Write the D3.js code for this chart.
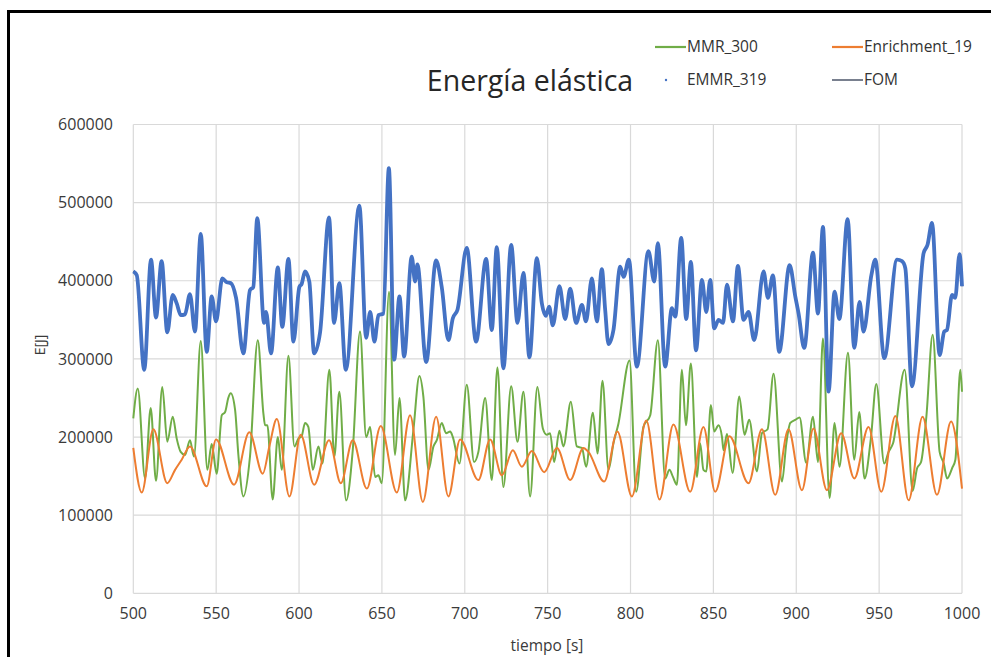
<!DOCTYPE html>
<html>
<head>
<meta charset="utf-8">
<script src="https://cdn.jsdelivr.net/npm/d3@7"></script>
<style>
  body { margin: 0; background: #fff; }
  text { font-family: "Open Sans", "Noto Sans", sans-serif; fill: #3a3a3a; }
</style>
</head>
<body>
<div id="chart"></div>
<script>
var W = 991, H = 657;
var margin = {left: 133.3, right: 29, top: 124.5, bottom: 63.7};

var title = "Energía elástica";
var xTicks = [500, 550, 600, 650, 700, 750, 800, 850, 900, 950, 1000];
var yTicks = [0, 100000, 200000, 300000, 400000, 500000, 600000];

// EMMR_319 (blue) - FOM follows the same path underneath
var emmrT = [500, 502.1, 506.6, 510.7, 513.7, 517.1, 520.5, 523.8, 526.2, 528.6, 531.2, 534.2, 537.2, 540.7, 544.3, 547.3, 549.9, 553.7, 556.4, 558.8, 562, 566.4, 570.4, 572.4, 574.8, 578.9, 580.1, 583.1, 587.2, 589.9, 593.6, 596.6, 600.2, 601.6, 603.6, 606.2, 609.1, 612.7, 618.1, 621.1, 624.3, 628.2, 636.4, 640.5, 642.9, 645.5, 647.9, 650.9, 654.2, 657.4, 660.6, 663.4, 668, 670, 671.4, 676.7, 682.7, 686.1, 690.1, 692.8, 695.6, 701.2, 706.8, 712.9, 716.3, 719.3, 723.3, 728, 731.8, 735.4, 739, 743.5, 746.5, 748.9, 750.9, 753.1, 757.1, 760.6, 763.6, 767.2, 770.7, 773.1, 776.7, 779.7, 782.7, 784.7, 786.7, 789.7, 793.8, 795.8, 799, 803.8, 810.8, 814.3, 816.5, 820.9, 825, 827, 830.6, 833.6, 836.4, 839.5, 843.1, 845.7, 848.1, 850.5, 853.1, 855.8, 858.2, 861.8, 864.8, 868.2, 871.2, 874.6, 880.3, 882.9, 885.9, 889.7, 896, 899.4, 901.4, 904.8, 910.1, 913.1, 916.1, 919.5, 923.1, 926, 931, 935, 938.2, 940.6, 945.3, 947.7, 953.1, 960.8, 963.8, 965.8, 969.8, 976.8, 979.2, 981.9, 986.5, 989.3, 990.9, 994, 995.9, 998.5, 1000];
var emmrV = [412, 407, 286, 427, 353, 425, 334, 382, 371, 356, 357, 383, 335, 460, 309, 380, 348, 403, 398, 397, 378, 307, 388, 392, 480, 346, 360, 307, 417, 341, 428, 322, 392, 396, 412, 399, 307, 334, 481, 346, 397, 286, 496, 327, 360, 322, 356, 358, 544, 299, 380, 303, 431, 399, 421, 296, 426, 392, 324, 352, 363, 442, 322, 428, 337, 443, 288, 446, 346, 410, 302, 429, 371, 355, 367, 343, 393, 351, 390, 346, 369, 348, 403, 348, 415, 363, 319, 337, 418, 405, 427, 290, 438, 399, 448, 290, 365, 354, 455, 351, 424, 311, 401, 360, 401, 339, 350, 346, 395, 348, 419, 350, 360, 324, 412, 378, 407, 309, 420, 380, 358, 314, 436, 358, 469, 258, 386, 351, 479, 314, 373, 335, 407, 427, 301, 427, 425, 416, 265, 435, 446, 474, 305, 335, 337, 382, 378, 434, 393];

// MMR_300 (green)
var mmrT = [500, 502.7, 507.1, 510.5, 513.7, 517.5, 520.5, 523.8, 526.2, 528.6, 531.2, 534.2, 536.6, 540.7, 544.7, 547.3, 550.3, 553.4, 555.4, 557.3, 558.8, 561.4, 563.4, 566.4, 570.4, 575.1, 578.5, 579.5, 580.9, 584.1, 587.2, 589.6, 593.6, 597.2, 599.6, 601.6, 603.6, 605.6, 608.3, 611.7, 614.1, 618.3, 621.3, 624.3, 628.4, 632.4, 636.8, 640.5, 642.9, 645.9, 647.9, 649.9, 654.3, 657.9, 660.6, 664, 669, 672.6, 675, 678.1, 681.1, 683.1, 686.1, 688.7, 691.2, 692.8, 696.8, 701.2, 705.6, 708.2, 712.3, 716.3, 719.7, 723.3, 728, 731.8, 735.4, 739.4, 743.8, 747.1, 749.5, 751.5, 753.9, 757.1, 759.5, 764, 767.6, 770.7, 773.2, 777.3, 780.1, 783.1, 786.7, 789.7, 792.7, 799.4, 803.4, 807.8, 811.9, 816.5, 820.9, 823.5, 825.6, 828, 831, 833.4, 836.4, 840.1, 842, 844, 845.7, 848.5, 850.5, 853.1, 855.2, 856.1, 858.2, 861.6, 865.6, 868.8, 871.6, 876.3, 879.3, 882.7, 886.3, 891.4, 894, 896.4, 899.4, 902, 906, 910.1, 913.1, 916.1, 920.1, 923.1, 926.1, 931.2, 935, 938, 941.2, 945.1, 948.3, 953.1, 955.7, 958.4, 965.4, 970.2, 972.9, 975.3, 978.5, 982.3, 986.5, 989, 991, 994, 996, 999, 1000];
var mmrV = [224, 262, 147, 237, 144, 264, 194, 226, 198, 181, 177, 196, 175, 323, 158, 191, 153, 228, 232, 250, 256, 235, 177, 124, 175, 324, 230, 215, 215, 120, 200, 158, 304, 188, 198, 201, 218, 213, 158, 188, 166, 286, 175, 258, 119, 183, 335, 200, 213, 149, 151, 141, 386, 177, 250, 119, 209, 278, 252, 158, 188, 196, 218, 205, 207, 200, 166, 267, 168, 181, 250, 145, 289, 136, 265, 194, 258, 124, 264, 211, 203, 205, 168, 208, 188, 245, 188, 186, 162, 231, 179, 272, 158, 192, 217, 298, 130, 213, 228, 324, 147, 158, 149, 139, 286, 215, 294, 149, 192, 158, 156, 241, 207, 215, 200, 183, 204, 154, 252, 203, 222, 156, 205, 210, 281, 143, 192, 218, 222, 225, 167, 226, 168, 326, 122, 218, 162, 308, 171, 232, 147, 200, 268, 166, 181, 192, 286, 131, 160, 168, 226, 331, 181, 166, 147, 160, 171, 286, 258];

// Enrichment_19 (orange)
var enrT = [500, 505.1, 512.1, 520.5, 525.2, 529.2, 534.2, 544.3, 549.9, 560.8, 570, 578.1, 582.1, 586.6, 594.2, 601, 609.1, 618.1, 625.2, 632.4, 640.9, 649.3, 659, 667, 674.7, 682.7, 690.1, 697.2, 708.2, 715.3, 722.4, 729, 734.4, 740.5, 747.9, 755.6, 763.6, 771.6, 774.6, 784.1, 792.1, 800.8, 809.5, 817.5, 825.9, 836, 844, 851.1, 859.7, 871.2, 879.3, 887.3, 895.3, 903.4, 910.4, 918.5, 927.1, 935, 943.6, 951.3, 959.8, 967.8, 976.2, 984.9, 993.4, 1000];
var enrV = [186, 129, 210, 141, 158, 171, 188, 137, 197, 139, 206, 153, 188, 223, 124, 203, 139, 196, 141, 196, 134, 214, 129, 228, 117, 226, 124, 197, 145, 197, 151, 183, 162, 182, 155, 186, 145, 186, 181, 143, 207, 124, 221, 120, 216, 130, 213, 130, 201, 141, 210, 126, 210, 132, 211, 132, 205, 147, 213, 130, 227, 119, 226, 126, 220, 134];

var svg = d3.select("#chart").append("svg")
    .attr("width", W)
    .attr("height", H);

svg.append("rect").attr("width", W).attr("height", H).attr("fill", "#fff");

var x = d3.scaleLinear()
    .domain([500, 1000])
    .range([margin.left, W - margin.right]);
var y = d3.scaleLinear()
    .domain([0, 600000])
    .range([H - margin.bottom, margin.top]);

// grid
svg.append("g")
    .selectAll("line.h")
    .data(yTicks)
    .join("line")
    .attr("x1", x(500)).attr("x2", x(1000))
    .attr("y1", d => y(d)).attr("y2", d => y(d))
    .attr("stroke", "#d9d9d9").attr("stroke-width", 1.2);
svg.append("g")
    .selectAll("line.v")
    .data(xTicks)
    .join("line")
    .attr("x1", d => x(d)).attr("x2", d => x(d))
    .attr("y1", y(0)).attr("y2", y(600000))
    .attr("stroke", "#d9d9d9").attr("stroke-width", 1.2);

// tick labels
svg.append("g")
    .selectAll("text")
    .data(yTicks)
    .join("text")
    .attr("x", 113)
    .attr("y", d => y(d))
    .attr("dy", "0.35em")
    .attr("text-anchor", "end")
    .attr("font-size", 16)
    .text(d => d);
svg.append("g")
    .selectAll("text")
    .data(xTicks)
    .join("text")
    .attr("x", d => x(d))
    .attr("y", 619)
    .attr("text-anchor", "middle")
    .attr("font-size", 16)
    .text(d => d);

// axis titles
svg.append("text")
    .attr("transform", "translate(45,345) rotate(-90)")
    .attr("text-anchor", "middle")
    .attr("font-size", 14)
    .text("E[J]");
svg.append("text")
    .attr("x", 547).attr("y", 651)
    .attr("text-anchor", "middle")
    .attr("font-size", 15.5)
    .text("tiempo [s]");

function series(ts, vs) {
    return ts.map((t, i) => [t, vs[i] * 1000]);
}
var line = d3.line()
    .x(d => x(d[0]))
    .y(d => y(d[1]))
    .curve(d3.curveMonotoneX);

var plot = svg.append("g");
plot.append("path")
    .datum(series(mmrT, mmrV))
    .attr("d", line)
    .attr("fill", "none")
    .attr("stroke", "#70AD47")
    .attr("stroke-width", 2)
    .attr("stroke-linejoin", "round");
plot.append("path")
    .datum(series(enrT, enrV))
    .attr("d", line)
    .attr("fill", "none")
    .attr("stroke", "#ED7D31")
    .attr("stroke-width", 2)
    .attr("stroke-linejoin", "round");
// FOM thin dark line under the blue dots
plot.append("path")
    .datum(series(emmrT, emmrV))
    .attr("d", line)
    .attr("fill", "none")
    .attr("stroke", "#1f2a44")
    .attr("stroke-width", 1);
plot.append("path")
    .datum(series(emmrT, emmrV))
    .attr("d", line)
    .attr("fill", "none")
    .attr("stroke", "#4472C4")
    .attr("stroke-width", 3.8)
    .attr("stroke-linejoin", "round");

// title
svg.append("text")
    .attr("x", 530).attr("y", 91)
    .attr("text-anchor", "middle")
    .attr("font-size", 28.5)
    .style("fill", "#262626")
    .text(title);

// legend
var legend = svg.append("g").attr("font-size", 15.5);
var legItems = [
    {name: "MMR_300", color: "#70AD47", x: 655, y: 47, kind: "line"},
    {name: "Enrichment_19", color: "#ED7D31", x: 832, y: 47, kind: "line"},
    {name: "EMMR_319", color: "#4472C4", x: 655, y: 80, kind: "dot"},
    {name: "FOM", color: "#1f2a44", x: 832, y: 80, kind: "line"}
];
legItems.forEach(it => {
    if (it.kind == "line") {
        legend.append("line")
            .attr("x1", it.x).attr("x2", it.x + 31)
            .attr("y1", it.y).attr("y2", it.y)
            .attr("stroke", it.color).attr("stroke-width", it.name == "FOM" ? 1.2 : 2.2);
    } else {
        legend.append("circle")
            .attr("cx", it.x + 11).attr("cy", it.y)
            .attr("r", 1.2).attr("fill", it.color);
    }
    legend.append("text")
        .attr("x", it.x + 32).attr("y", it.y)
        .attr("dy", "0.35em")
        .style("fill", "#333")
        .text(it.name);
});

// outer frame
svg.append("rect")
    .attr("x", 8.5).attr("y", 11.5)
    .attr("width", 1000).attr("height", 700)
    .attr("fill", "none")
    .attr("stroke", "#000")
    .attr("stroke-width", 3);
</script>
</body>
</html>
